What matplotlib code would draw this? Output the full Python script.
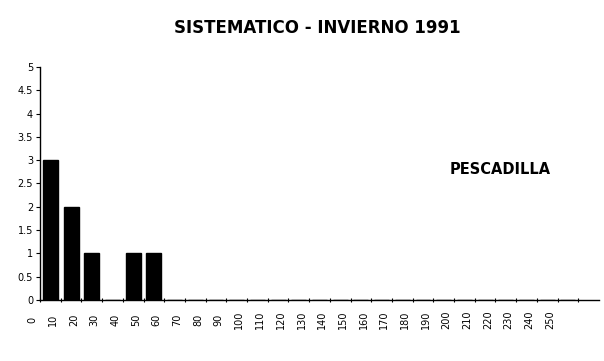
import matplotlib
matplotlib.use("Agg")
import matplotlib.pyplot as plt
import matplotlib.transforms as mtransforms
import numpy as np

categories = [str(v) for v in range(0, 260, 10)]
values = [3, 2, 1, 0, 1, 1] + [0] * 20
y_ticks = [0, 0.5, 1, 1.5, 2, 2.5, 3, 3.5, 4, 4.5, 5]
y_labels = ["0", "0.5", "1", "1.5", "2", "2.5", "3", "3.5", "4", "4.5", "5"]
title = "SISTEMATICO - INVIERNO 1991"
species = "PESCADILLA"

fig = plt.figure(figsize=(6.04, 3.61), dpi=100)
ax = fig.add_axes([40 / 604, 1 - 300 / 361, 559 / 604, 233 / 361])

x = np.arange(len(categories))
ax.bar(x, values, width=0.72, color="black", edgecolor="black")

ax.set_xlim(-0.5, len(categories) + 0.5)
ax.set_ylim(0, 5)
ax.set_yticks(y_ticks)
ax.set_yticklabels(y_labels, fontsize=7)
ax.tick_params(axis="y", length=3, width=0.8, pad=2, direction="out")

ax.set_xticks(x)
ax.set_xticklabels(categories, rotation=90, fontsize=7, va="center")
ax.tick_params(axis="x", length=0, pad=14)
ax.set_xticks(np.arange(-0.5, len(categories) + 0.5, 1), minor=True)
ax.tick_params(axis="x", which="minor", length=3, width=0.8, direction="inout")

offset = mtransforms.ScaledTranslation(-18 / 100, 0, fig.dpi_scale_trans)
for lab in ax.get_xticklabels():
    lab.set_transform(lab.get_transform() + offset)

for s in ["top", "right"]:
    ax.spines[s].set_visible(False)
ax.spines["left"].set_linewidth(1.0)
ax.spines["bottom"].set_linewidth(1.0)

fig.text(317 / 604, 1 - 28 / 361, title, ha="center", va="center",
         fontsize=12, fontweight="bold")
fig.text(500 / 604, 1 - 170 / 361, species, ha="center", va="center",
         fontsize=10.5, fontweight="bold")

fig.savefig("out.png", dpi=100, facecolor="white")
